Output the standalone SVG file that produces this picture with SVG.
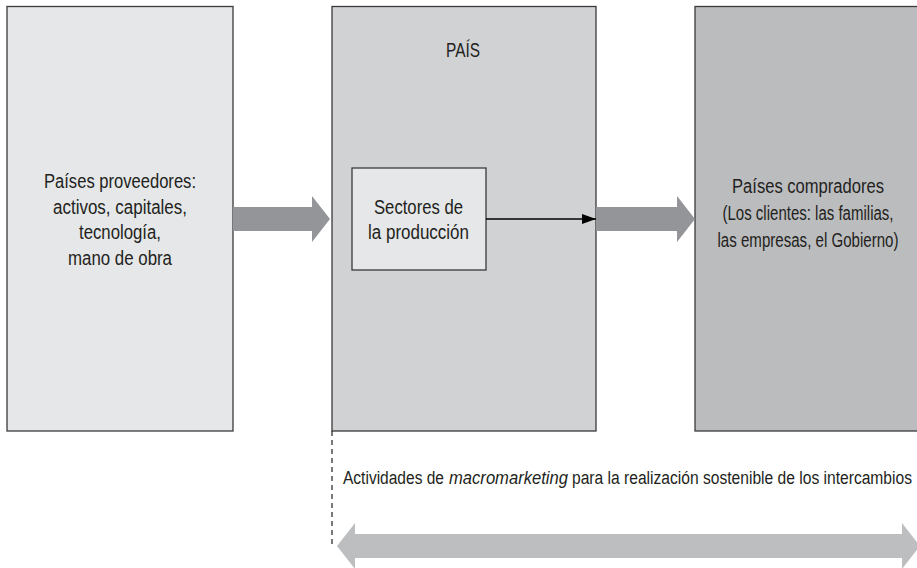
<svg xmlns="http://www.w3.org/2000/svg" width="917" height="568" viewBox="0 0 917 568">
  <style>
    .box { stroke: #3a3a3c; stroke-width: 1.3; }
    .lbl { font-family: "Liberation Sans", Arial, sans-serif; font-size: 20px; fill: #231f20; text-anchor: middle; }
    .note { font-family: "Liberation Sans", Arial, sans-serif; font-size: 18px; fill: #231f20; }
    .flow { fill: #939598; }
    .span { fill: #bcbec0; }
  </style>
  <defs>
    <marker id="head" viewBox="0 0 14 10" refX="14" refY="5" markerWidth="14" markerHeight="10" markerUnits="userSpaceOnUse" orient="auto">
      <path d="M0,0 L14,5 L0,10 Z" fill="#000"/>
    </marker>
  </defs>

  <!-- supplier countries -->
  <g id="proveedores">
    <rect class="box" x="7" y="6.5" width="226" height="424.5" fill="#e6e7e8"/>
    <text class="lbl" x="120" y="188" textLength="152" lengthAdjust="spacingAndGlyphs">Países proveedores:</text>
    <text class="lbl" x="120" y="213.5" textLength="134" lengthAdjust="spacingAndGlyphs">activos, capitales,</text>
    <text class="lbl" x="120" y="239" textLength="82" lengthAdjust="spacingAndGlyphs">tecnología,</text>
    <text class="lbl" x="120" y="264.5" textLength="104" lengthAdjust="spacingAndGlyphs">mano de obra</text>
  </g>

  <!-- home country -->
  <g id="pais">
    <rect class="box" x="332" y="6.5" width="264" height="424.5" fill="#d1d2d4"/>
    <text class="lbl" x="463" y="57" textLength="34" lengthAdjust="spacingAndGlyphs">PAÍS</text>
  </g>

  <!-- production sectors inside the country -->
  <g id="sectores">
    <rect class="box" x="352" y="168" width="134" height="102" fill="#e6e7e8"/>
    <text class="lbl" x="418.5" y="213.5" textLength="89" lengthAdjust="spacingAndGlyphs">Sectores de</text>
    <text class="lbl" x="418.5" y="239" textLength="101" lengthAdjust="spacingAndGlyphs">la producción</text>
  </g>

  <!-- buyer countries -->
  <g id="compradores">
    <rect class="box" x="695" y="6.5" width="230" height="424.5" fill="#bbbcbe"/>
    <text class="lbl" x="808" y="193" textLength="152" lengthAdjust="spacingAndGlyphs">Países compradores</text>
    <text class="lbl" x="808" y="220" textLength="171" lengthAdjust="spacingAndGlyphs">(Los clientes: las familias,</text>
    <text class="lbl" x="808" y="246.5" textLength="181" lengthAdjust="spacingAndGlyphs">las empresas, el Gobierno)</text>
  </g>

  <g id="connectors">
    <!-- block arrows between the three areas -->
    <path class="flow" d="M233,207 L312,207 L312,196 L330,219 L312,242 L312,231 L233,231 Z"/>
    <path class="flow" d="M596,207 L677,207 L677,196 L695,219 L677,242 L677,231 L596,231 Z"/>
    <!-- production output line -->
    <line x1="486" y1="219" x2="596" y2="219" stroke="#000" stroke-width="1.3" marker-end="url(#head)"/>
    <!-- dashed guide under the country edge -->
    <line x1="332" y1="431" x2="332" y2="548" stroke="#231f20" stroke-width="1.2" stroke-dasharray="5,4"/>
    <!-- two-way span of macromarketing activities -->
    <path class="span" d="M337,546 L355,523 L355,534 L902,534 L902,523 L920,546 L902,569 L902,558 L355,558 L355,569 Z"/>
  </g>

  <!-- caption of the span, set in three runs -->
  <g id="macromarketing">
    <text class="note" x="343" y="484" textLength="101" lengthAdjust="spacingAndGlyphs">Actividades de</text>
    <text class="note" x="449" y="484" textLength="119" lengthAdjust="spacingAndGlyphs" font-style="italic">macromarketing</text>
    <text class="note" x="572" y="484" textLength="340" lengthAdjust="spacingAndGlyphs">para la realización sostenible de los intercambios</text>
  </g>
</svg>
